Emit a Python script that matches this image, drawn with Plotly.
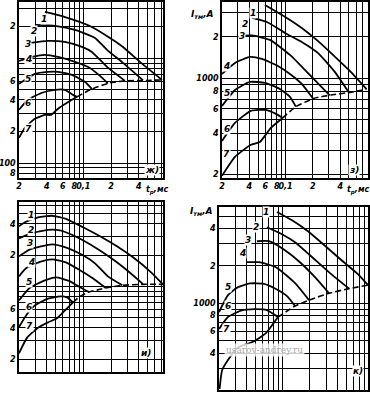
import math
import plotly.graph_objects as go

# ---------------- Panel ж ----------------
zh_t1 = [0.0383, 0.0632, 0.118, 0.195, 0.270, 0.413, 0.716]
zh_i1 = [2760, 2470, 2030, 1560, 1280, 922, 621]
zh_t2 = [0.0298, 0.0492, 0.0812, 0.134, 0.181, 0.270, 0.446]
zh_i2 = [2075, 2030, 1860, 1560, 1200, 902, 615]
zh_t3 = [0.0263, 0.0413, 0.0632, 0.0968, 0.124, 0.181, 0.284]
zh_i3 = [1400, 1462, 1429, 1281, 1148, 826, 608]
zh_t4 = [0.02, 0.0277, 0.0383, 0.0531, 0.0812, 0.118, 0.152, 0.185]
zh_i4 = [942, 1028, 1075, 1028, 922, 808, 678, 575]
zh_t5 = [0.02, 0.0298, 0.0413, 0.0531, 0.0753, 0.104, 0.125]
zh_i5 = [569, 709, 741, 741, 693, 595, 505]
zh_t6 = [0.02, 0.025, 0.0356, 0.0492, 0.0632, 0.0773, 0.0854]
zh_i6 = [322, 401, 468, 499, 499, 447, 428]
zh_t7 = [0.02, 0.0232, 0.0298, 0.0383, 0.0446, 0.0531, 0.0665, 0.0854]
zh_i7 = [174, 217, 264, 288, 288, 329, 375, 428]
zh_te = [0.0854, 0.118, 0.195, 0.284, 0.446, 0.716]
zh_ie = [428, 499, 582, 608, 612, 621]

# ---------------- Panel з ----------------
z_t1 = [0.0594, 0.0984, 0.151, 0.227, 0.349, 0.523, 0.78]
z_i1 = [3400, 2795, 2315, 1864, 1434, 1111, 835]
z_t2 = [0.0428, 0.064, 0.0984, 0.151, 0.227, 0.349, 0.497]
z_i2 = [2735, 2537, 2130, 1833, 1525, 1111, 790]
z_t3 = [0.033, 0.0428, 0.0673, 0.112, 0.185, 0.307]
z_i3 = [2027, 2042, 1896, 1475, 1056, 752]
z_t4 = [0.02, 0.0278, 0.0406, 0.055, 0.0825, 0.112, 0.151, 0.2]
z_i4 = [1074, 1291, 1428, 1380, 1228, 1074, 909, 715]
z_t5 = [0.02, 0.0278, 0.0406, 0.0594, 0.0867, 0.112, 0.130]
z_i5 = [630, 822, 940, 925, 836, 732, 622]
z_t6 = [0.02, 0.0278, 0.0416, 0.0609, 0.0784, 0.093]
z_i6 = [351, 474, 580, 589, 551, 515]
z_t7 = [0.02, 0.0278, 0.0416, 0.0523, 0.069, 0.093]
z_i7 = [196, 269, 329, 345, 436, 515]
z_te = [0.093, 0.130, 0.205, 0.315, 0.51, 0.78]
z_ie = [515, 622, 714, 755, 789, 832]

# ---------------- Panel и ----------------
i_t1 = [0.02, 0.0232, 0.0322, 0.0457, 0.0665, 0.0993, 0.152, 0.232, 0.347, 0.531, 0.735]
i_i1 = [3790, 4143, 4625, 4786, 4428, 3708, 3040, 2436, 1908, 1400, 1050]
i_t2 = [0.02, 0.027, 0.0413, 0.0558, 0.0773, 0.118, 0.195, 0.299, 0.446]
i_i2 = [2906, 3249, 3509, 3470, 3107, 2545, 1908, 1432, 1055]
i_t3 = [0.02, 0.0263, 0.0457, 0.0665, 0.0993, 0.134, 0.185, 0.266]
i_i3 = [1952, 2278, 2545, 2356, 1995, 1671, 1253, 1027]
i_t4 = [0.02, 0.0238, 0.0338, 0.0457, 0.0665, 0.092, 0.127, 0.175]
i_i4 = [1253, 1496, 1728, 1826, 1690, 1432, 1199, 968]
i_t5 = [0.02, 0.0263, 0.0383, 0.0505, 0.0699, 0.0944, 0.115]
i_i5 = [737, 972, 1147, 1226, 1134, 972, 885]
i_t6 = [0.02, 0.0244, 0.0298, 0.0413, 0.0558, 0.0665, 0.0773]
i_i6 = [408, 541, 659, 765, 805, 788, 705]
i_t7 = [0.02, 0.0244, 0.0314, 0.0413, 0.0518, 0.0649, 0.0773]
i_i7 = [228, 321, 396, 453, 495, 604, 705]
i_te = [0.0773, 0.092, 0.115, 0.152, 0.175, 0.266, 0.446, 0.735]
i_ie = [705, 805, 885, 940, 968, 1027, 1050, 1050]

# ---------------- Panel к ----------------
k_t1 = [0.0867, 0.127, 0.190, 0.292, 0.438, 0.673, 0.868]
k_i1 = [5407, 4637, 3787, 2899, 2240, 1716, 1401]
k_t2 = [0.0673, 0.0984, 0.137, 0.2, 0.332, 0.537]
k_i2 = [4078, 3585, 3093, 2434, 1748, 1313]
k_t3 = [0.0523, 0.0708, 0.106, 0.155, 0.227, 0.324]
k_i3 = [3151, 3151, 2669, 2139, 1623, 1205]
k_t4 = [0.0396, 0.055, 0.0846, 0.137, 0.195]
k_i4 = [2139, 2139, 1952, 1453, 1063]
k_t5 = [0.02, 0.0251, 0.0323, 0.0438, 0.0609, 0.0825, 0.112, 0.137]
k_i5 = [852, 1165, 1350, 1445, 1440, 1318, 1144, 952]
k_t6 = [0.02, 0.0251, 0.0349, 0.0498, 0.0673, 0.089]
k_i6 = [623, 777, 876, 900, 884, 777]
k_t7 = [0.0203, 0.0216, 0.0251, 0.0323, 0.0473, 0.0656, 0.089]
k_i7 = [206, 290, 352, 443, 493, 578, 777]
k_te = [0.089, 0.121, 0.137, 0.195, 0.324, 0.537, 0.868]
k_ie = [777, 900, 952, 1063, 1205, 1313, 1401]

# tick labels
x_grid = [0.02, 0.03, 0.04, 0.05, 0.06, 0.07, 0.08, 0.09, 0.1, 0.2, 0.3, 0.4, 0.5, 0.6, 0.7, 0.8]
x_text = ["2", " ", "4", " ", "6", " ", "8", " ", "0,1", "2", " ", "4", " ", " ", " ", " "]
y_grid = [80, 90, 100, 200, 300, 400, 500, 600, 700, 800, 900, 1000, 2000, 3000, 4000, 5000, 6000]
zh_ytext = ["8", " ", "100", "2", " ", "4", " ", "6", " ", " ", " ", " ", "2", " ", " ", " ", " "]
z_ytext = [" ", " ", " ", "2", " ", "4", " ", "6", " ", "8", " ", "1000", "2", " ", " ", " ", " "]
i_ytext = [" ", " ", " ", "2", " ", "4", " ", "6", " ", " ", " ", " ", "2", " ", "4", " ", " "]
k_ytext = [" ", " ", " ", " ", " ", "4", " ", "6", " ", "8", " ", "1000", "2", " ", "4", " ", " "]

W, H = 370, 394


def px(x, y):
    return x / W, 1 - y / H


fig = go.Figure()

panels = [
    ("x", "y", [(zh_t1, zh_i1), (zh_t2, zh_i2), (zh_t3, zh_i3), (zh_t4, zh_i4),
                (zh_t5, zh_i5), (zh_t6, zh_i6), (zh_t7, zh_i7)], (zh_te, zh_ie)),
    ("x2", "y2", [(z_t1, z_i1), (z_t2, z_i2), (z_t3, z_i3), (z_t4, z_i4),
                  (z_t5, z_i5), (z_t6, z_i6), (z_t7, z_i7)], (z_te, z_ie)),
    ("x3", "y3", [(i_t1, i_i1), (i_t2, i_i2), (i_t3, i_i3), (i_t4, i_i4),
                  (i_t5, i_i5), (i_t6, i_i6), (i_t7, i_i7)], (i_te, i_ie)),
    ("x4", "y4", [(k_t1, k_i1), (k_t2, k_i2), (k_t3, k_i3), (k_t4, k_i4),
                  (k_t5, k_i5), (k_t6, k_i6), (k_t7, k_i7)], (k_te, k_ie)),
]

for xa, ya, curves, env in panels:
    for t, i in curves:
        fig.add_trace(go.Scatter(x=t, y=i, xaxis=xa, yaxis=ya, mode="lines",
                                 line=dict(color="black", width=1.8, shape="spline", smoothing=0.5),
                                 showlegend=False, hoverinfo="skip"))
    fig.add_trace(go.Scatter(x=env[0], y=env[1], xaxis=xa, yaxis=ya, mode="lines",
                             line=dict(color="black", width=1.6, dash="6px,3px", shape="spline", smoothing=0.5),
                             showlegend=False, hoverinfo="skip"))

xtick_font = dict(family="DejaVu Sans", size=8, color="black", style="italic", weight="bold")
ytick_font = dict(family="DejaVu Sans", size=8, color="black", style="italic", weight="bold")


def xax(dom, rng, labels):
    return dict(type="log", domain=[dom[0] / W, dom[1] / W], range=rng, automargin=False,
                tickmode="array", tickvals=x_grid, ticktext=x_text,
                showticklabels=labels, tickangle=0, showgrid=True, gridcolor="black", gridwidth=0.8,
                showline=True, linecolor="black", linewidth=1.6, mirror=True,
                ticks="", zeroline=False, tickfont=xtick_font, fixedrange=True)


def yax(dom, rng, text):
    return dict(type="log", domain=[1 - dom[1] / H, 1 - dom[0] / H], range=rng, automargin=False,
                tickmode="array", tickvals=y_grid, ticktext=text,
                showgrid=True, gridcolor="black", gridwidth=0.8,
                showline=True, linecolor="black", linewidth=1.6, mirror=True,
                ticks="", zeroline=False, tickfont=ytick_font, fixedrange=True)


L = math.log10
fig.update_layout(
    template="none",
    width=W, height=H, margin=dict(l=0, r=0, t=0, b=0, autoexpand=False),
    paper_bgcolor="white", plot_bgcolor="white",
    xaxis=dict(xax((19, 163), [L(0.02), L(0.735)], True), anchor="y"),
    yaxis=dict(yax((2, 178), [L(72), L(3436)], zh_ytext), anchor="x"),
    xaxis2=dict(xax((222, 368), [L(0.02), L(0.81)], True), anchor="y2"),
    yaxis2=dict(yax((2, 178), [L(189), L(3570)], z_ytext), anchor="x2"),
    xaxis3=dict(xax((19, 163), [L(0.02), L(0.735)], False), anchor="y3"),
    yaxis3=dict(yax((202, 372), [L(151), L(6490)], i_ytext), anchor="x3"),
    xaxis4=dict(xax((219, 368), [L(0.02), L(0.868)], False), anchor="y4"),
    yaxis4=dict(yax((207, 390), [L(202), L(5930)], k_ytext), anchor="x4"),
)

ann_font = dict(family="DejaVu Sans", size=9, color="black", style="italic", weight="bold")
small_font = dict(family="DejaVu Sans", size=8, color="black", style="italic", weight="bold")
labels = {
    "zh": [(40, 13), (30, 25), (24, 38), (24, 53), (24, 73), (24, 97), (24, 123)],
    "z": [(257, 7), (245, 18), (242, 30), (227, 60), (227, 87), (227, 123), (227, 154)],
    "i": [(27, 215), (27, 230), (26, 243), (27, 262), (25, 288), (25, 313), (25, 332)],
    "k": [(270, 212), (260, 227), (252, 240), (242, 253), (228, 293), (228, 312), (227, 335)],
}
for pts in labels.values():
    for n, (x, y) in enumerate(pts, start=1):
        xp, yp = px(x, y)
        fig.add_annotation(x=xp, y=yp, xref="paper", yref="paper", text=str(n),
                           showarrow=False, font=ann_font, bgcolor="white", borderpad=0)

extra = [
    ("ж)", 152, 170, "center", ann_font), ("з)", 354, 170, "center", ann_font),
    ("и)", 146, 359, "center", ann_font), ("к)", 358, 377, "center", ann_font),
    ("t<sub>р</sub>,мс", 145, 190, "left", small_font), ("t<sub>р</sub>,мс", 346, 190, "left", small_font),
    ("I<sub>тм</sub>,A", 203, 8, "center", ann_font), ("I<sub>тм</sub>,A", 201, 211, "center", ann_font),
]
for text, x, y, anc, fnt in extra:
    xp, yp = px(x, y)
    fig.add_annotation(x=xp, y=yp, xref="paper", yref="paper", text=text, xanchor=anc,
                       showarrow=False, font=fnt, bgcolor="white", borderpad=0)

xp, yp = px(305, 357)
fig.add_annotation(x=xp, y=yp, xref="paper", yref="paper", text="usarov-andrey.ru",
                   showarrow=False, font=dict(family="DejaVu Serif", size=9, color="#aaaaaa"),
                   bgcolor="rgba(255,255,255,0.8)")

fig.write_html("out.html", config={"displayModeBar": False},
               post_script="document.body.style.margin='0';document.body.style.overflow='hidden';")
